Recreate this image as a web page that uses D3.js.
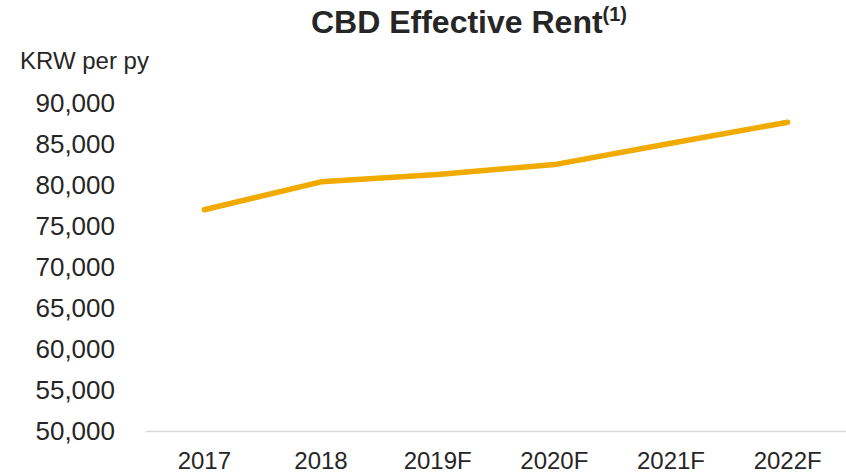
<!DOCTYPE html>
<html>
<head>
<meta charset="utf-8">
<script src="https://cdn.jsdelivr.net/npm/d3@7"></script>
<style>
  body { margin: 0; background: #fff; }
  text { font-family: "Liberation Sans", Arial, sans-serif; fill: #262626; }
</style>
</head>
<body>
<div id="vis"></div>
<script>
var years = ["2017", "2018", "2019F", "2020F", "2021F", "2022F"];
var rent = [77000, 80400, 81300, 82500, 85100, 87650];
var yTicks = [50000, 55000, 60000, 65000, 70000, 75000, 80000, 85000, 90000];

var W = 846, H = 473;
var margin = {top: 103, right: 0, bottom: 41.5, left: 146};
var width = W - margin.left - margin.right,
    height = H - margin.top - margin.bottom;

var svg = d3.select("#vis").append("svg")
  .attr("width", W)
  .attr("height", H);

var g = svg.append("g")
  .attr("transform", "translate(" + margin.left + "," + margin.top + ")");

var x = d3.scaleBand().domain(years).range([0, width]);
var y = d3.scaleLinear().domain([50000, 90000]).range([height, 0]);

// title
var title = svg.append("text")
  .attr("x", 469)
  .attr("y", 33)
  .attr("text-anchor", "middle")
  .attr("font-size", 32)
  .attr("font-weight", "bold");
title.append("tspan").text("CBD Effective Rent");
title.append("tspan").attr("font-size", 20).attr("dy", -12).text("(1)");

svg.append("text")
  .attr("x", 20)
  .attr("y", 69)
  .attr("font-size", 24)
  .text("KRW per py");

// baseline
g.append("line")
  .attr("x1", 0).attr("x2", width)
  .attr("y1", y(50000)).attr("y2", y(50000))
  .attr("stroke", "#d9d9d9")
  .attr("stroke-width", 1.3);

// y axis labels
var yAxis = g.append("g")
  .call(d3.axisLeft(y).tickValues(yTicks).tickSize(0).tickPadding(31).tickFormat(d3.format(",")));
yAxis.select(".domain").remove();
yAxis.selectAll("text")
  .attr("font-size", 26)
  .attr("fill", "#262626");

// x axis labels
var xAxis = g.append("g")
  .attr("transform", "translate(0," + height + ")")
  .call(d3.axisBottom(x).tickSize(0).tickPadding(20));
xAxis.select(".domain").remove();
xAxis.selectAll("text")
  .attr("font-size", 24)
  .attr("fill", "#262626");
svg.selectAll(".tick").attr("font-family", null);

var line = d3.line()
  .x(function(d, i) { return x(years[i]) + x.bandwidth() / 2; })
  .y(function(d) { return y(d); });

g.append("path")
  .datum(rent)
  .attr("fill", "none")
  .attr("stroke", "#F0AA00")
  .attr("stroke-width", 5.5)
  .attr("stroke-linecap", "round")
  .attr("stroke-linejoin", "round")
  .attr("d", line);
</script>
</body>
</html>
